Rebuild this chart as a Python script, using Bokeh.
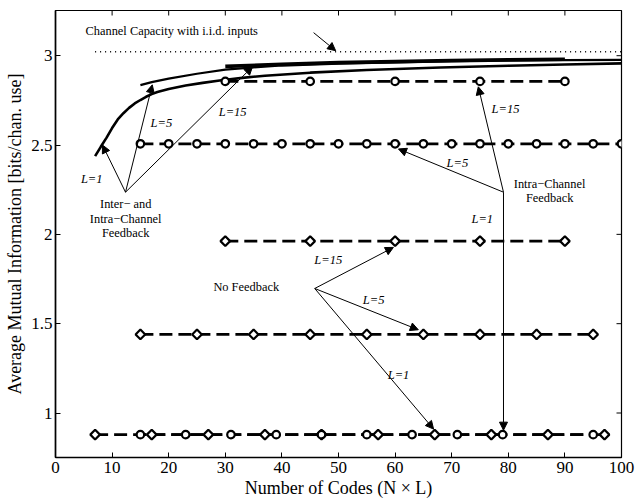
import math
from bokeh.plotting import figure
from bokeh.models import Range1d, FixedTicker, Arrow, NormalHead, ColumnDataSource
from bokeh.core.properties import value
from bokeh.embed import file_html
from bokeh.resources import INLINE

# ---------------- data ----------------
x_ticks = [0, 10, 20, 30, 40, 50, 60, 70, 80, 90, 100]
x_tick_labels = ["0", "10", "20", "30", "40", "50", "60", "70", "80", "90", "100"]
y_ticks = [1, 1.5, 2, 2.5, 3]
y_tick_labels = ["1", "1.5", "2", "2.5", "3"]

# channel capacity with i.i.d. inputs
cap_x = [7, 100]
cap_y = [3.022, 3.022]

# inter- and intra-channel feedback curves
fb1_x = [7, 8, 9, 10, 11, 12, 13, 14, 15, 16, 17, 18, 20, 23, 26, 29, 33, 37, 45, 55, 68, 80, 90, 100]
fb1_y = [2.438, 2.49, 2.54, 2.595, 2.643, 2.678, 2.708, 2.733, 2.752, 2.77, 2.785, 2.797, 2.814, 2.833,
         2.848, 2.861, 2.876, 2.888, 2.905, 2.92, 2.934, 2.944, 2.951, 2.957]
fb5_x = [15, 17, 20, 25, 30, 35, 40, 50, 60, 70, 80, 90, 100]
fb5_y = [2.835, 2.852, 2.872, 2.899, 2.922, 2.935, 2.945, 2.956, 2.963, 2.968, 2.972, 2.975, 2.977]
fb15_x = [30, 40, 50, 60, 70, 80, 90]
fb15_y = [2.94, 2.952, 2.961, 2.967, 2.973, 2.977, 2.98]

# intra-channel feedback (circles)
intra15_x = [30, 45, 60, 75, 90]
intra15_y = [2.856, 2.856, 2.856, 2.856, 2.856]
intra5_x = [15, 20, 25, 30, 35, 40, 45, 50, 55, 60, 65, 70, 75, 80, 85, 90, 95, 100]
intra5_y = [2.507, 2.507, 2.507, 2.507, 2.507, 2.507, 2.507, 2.507, 2.507,
            2.507, 2.507, 2.507, 2.507, 2.507, 2.507, 2.507, 2.507, 2.507]
intra1_x = [15, 23, 31, 39, 47, 55, 63, 71, 79, 95]
intra1_y = [0.879, 0.879, 0.879, 0.879, 0.879, 0.879, 0.879, 0.879, 0.879, 0.879]

# no feedback (diamonds)
nofb15_x = [30, 45, 60, 75, 90]
nofb15_y = [1.962, 1.962, 1.962, 1.962, 1.962]
nofb5_x = [15, 25, 35, 45, 55, 65, 75, 85, 95]
nofb5_y = [1.44, 1.44, 1.44, 1.44, 1.44, 1.44, 1.44, 1.44, 1.44]
nofb1_x = [7, 17, 27, 37, 47, 57, 67, 77, 87, 97]
nofb1_y = [0.879, 0.879, 0.879, 0.879, 0.879, 0.879, 0.879, 0.879, 0.879, 0.879]

# annotation texts and arrows (data units)
plain_text = ["Channel Capacity with i.i.d. inputs",
              "Inter\u2212 and", "Intra\u2212Channel", "Feedback",
              "Intra\u2212Channel", "Feedback",
              "No Feedback"]
plain_x = [5.3, 12.4, 12.4, 12.4, 87.3, 87.3, 33.7]
plain_y = [3.14, 2.169, 2.087, 2.006, 2.281, 2.204, 1.708]
plain_align = ["left", "center", "center", "center", "center", "center", "center"]

lab_text = ["L=1", "L=5", "L=15", "L=15", "L=5", "L=1", "L=15", "L=5", "L=1"]
lab_x = [6.4, 18.7, 31.3, 79.5, 71.0, 75.4, 48.2, 56.2, 60.6]
lab_y = [2.309, 2.624, 2.685, 2.702, 2.399, 2.084, 1.854, 1.635, 1.213]

arr_x0 = [45.6, 12.37, 12.37, 12.37, 79.15, 79.15, 79.15, 45.8, 45.8, 45.8]
arr_y0 = [3.129, 2.236, 2.236, 2.236, 2.236, 2.236, 2.236, 1.697, 1.697, 1.697]
arr_x1 = [49.5, 8.3, 17.1, 34.8, 74.7, 60.6, 79.15, 59.7, 64.1, 66.8]
arr_y1 = [3.028, 2.5, 2.837, 2.938, 2.826, 2.478, 0.904, 1.927, 1.466, 0.910]

x_title = "Number of Codes (N \u00d7 L)"
y_title = "Average Mutual Information [bits/chan. use]"

FONT = "Liberation Serif"
X0, X1 = 0, 100
Y0, Y1 = 0.751, 3.253

p = figure(width=635, height=500, output_backend="svg", toolbar_location=None,
           x_range=Range1d(X0, X1), y_range=Range1d(Y0, Y1),
           min_border_left=55, min_border_right=14, min_border_top=10, min_border_bottom=40)
p.xgrid.visible = False
p.ygrid.visible = False
p.outline_line_color = "black"
p.outline_line_width = 1.2
p.background_fill_color = "white"
p.border_fill_color = "white"

for ax, ticks, labels in ((p.xaxis[0], x_ticks, x_tick_labels), (p.yaxis[0], y_ticks, y_tick_labels)):
    ax.ticker = FixedTicker(ticks=ticks)
    ax.major_label_overrides = {t: l for t, l in zip(ticks, labels)}
    ax.major_tick_in = 5
    ax.major_tick_out = 0
    ax.minor_tick_in = 0
    ax.minor_tick_out = 0
    ax.axis_line_color = "black"
    ax.axis_line_width = 1.6
    ax.major_tick_line_color = "black"
    ax.major_tick_line_width = 1
    ax.major_label_text_font = FONT
    ax.major_label_text_font_size = "17px"
    ax.major_label_text_color = "black"
    ax.axis_label_text_font = FONT
    ax.axis_label_text_font_size = "18px"
    ax.axis_label_text_font_style = "normal"
    ax.axis_label_text_color = "black"
p.xaxis[0].axis_label = x_title
p.yaxis[0].axis_label = y_title
p.xaxis[0].major_label_standoff = 4
p.xaxis[0].axis_label_standoff = 2
p.yaxis[0].major_label_standoff = 3
p.yaxis[0].axis_label_standoff = 3

# inward ticks on top and right edges
p.ray(x=x_ticks, y=[Y1] * len(x_ticks), length=5, length_units="screen",
      angle=-math.pi / 2, line_color="black", line_width=1)
p.ray(x=[X1] * len(y_ticks), y=y_ticks, length=5, length_units="screen",
      angle=math.pi, line_color="black", line_width=1)

# capacity
p.line(cap_x, cap_y, line_color="black", line_width=1.5, line_dash="1 4")

# feedback curves
p.line(fb1_x, fb1_y, line_color="black", line_width=2.6)
p.line(fb5_x, fb5_y, line_color="black", line_width=2.2)
p.line(fb15_x, fb15_y, line_color="black", line_width=3.6)

DASH = "13 6"
LW = 2.7

def series(xs, ys, offset=0):
    p.line(xs, ys, line_color="black", line_width=LW, line_dash=DASH, line_dash_offset=offset)

def marks(xs, ys, marker):
    if marker == "circle":
        p.scatter(xs, ys, marker="circle", size=7.5, fill_color="white",
                  line_color="black", line_width=2.2)
    else:
        p.scatter(xs, ys, marker="square", angle=0.785398, size=6.8, fill_color="white",
                  line_color="black", line_width=2.2)

series(intra15_x, intra15_y)
series(intra5_x, intra5_y)
series(intra1_x, intra1_y, 7)
series(nofb15_x, nofb15_y)
series(nofb5_x, nofb5_y)
series(nofb1_x, nofb1_y)
marks(intra15_x, intra15_y, "circle")
marks(intra5_x, intra5_y, "circle")
marks(nofb15_x, nofb15_y, "diamond")
marks(nofb5_x, nofb5_y, "diamond")
marks(nofb1_x, nofb1_y, "diamond")
marks(intra1_x, intra1_y, "circle")

# arrows
arr_src = ColumnDataSource(dict(x0=arr_x0, y0=arr_y0, x1=arr_x1, y1=arr_y1))
p.add_layout(Arrow(source=arr_src, x_start="x0", y_start="y0", x_end="x1", y_end="y1",
                   line_color="black", line_width=1,
                   end=NormalHead(size=8, fill_color="black", line_color="black", line_width=1)))

# texts
p.text(x=plain_x, y=plain_y, text=plain_text, text_font=value(FONT), text_font_size="12.4px",
       text_align=plain_align, text_baseline="middle", text_color="black")
p.text(x=lab_x, y=lab_y, text=lab_text, text_font=value(FONT), text_font_size="12.5px",
       text_font_style="italic", text_align="center", text_baseline="middle", text_color="black")

open("out.html", "w").write(file_html(p, INLINE))
